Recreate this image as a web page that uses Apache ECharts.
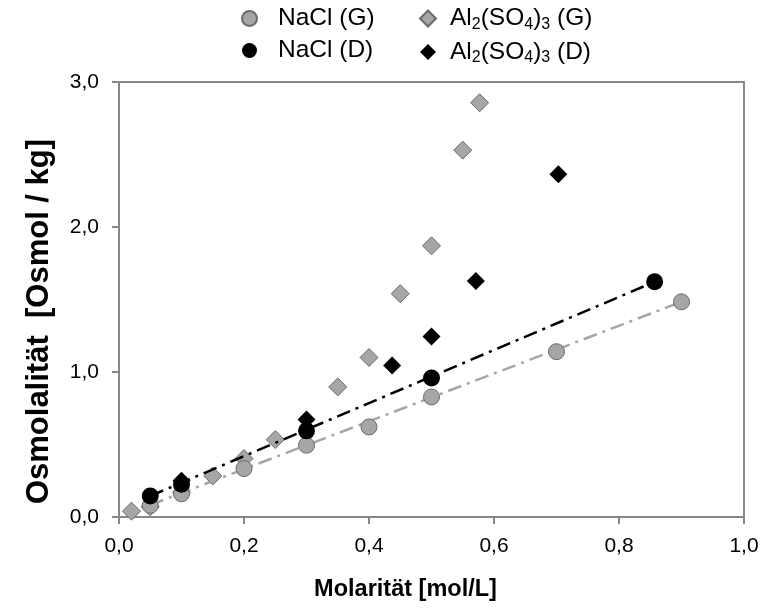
<!DOCTYPE html>
<html>
<head>
<meta charset="utf-8">
<script src="https://cdn.jsdelivr.net/npm/echarts@6/dist/echarts.min.js"></script>
<style>
  html,body{margin:0;padding:0;background:#fff;}
  #chart{width:764px;height:611px;}
</style>
</head>
<body>
<div id="chart"></div>
<script>
// values
const naclG_x = [0.05, 0.1, 0.2, 0.3, 0.4, 0.5, 0.7, 0.9];
const naclG_y = [0.08, 0.16, 0.334, 0.495, 0.621, 0.828, 1.14, 1.484];

const naclD_x = [0.05, 0.1, 0.3, 0.5, 0.857];
const naclD_y = [0.145, 0.226, 0.594, 0.959, 1.622];

const alG_x = [0.02, 0.05, 0.1, 0.15, 0.2, 0.25, 0.35, 0.4, 0.45, 0.5, 0.55, 0.577];
const alG_y = [0.04, 0.07, 0.17, 0.283, 0.403, 0.534, 0.897, 1.10, 1.54, 1.87, 2.53, 2.857];

const alD_x = [0.1, 0.3, 0.437, 0.5, 0.571, 0.703];
const alD_y = [0.25, 0.672, 1.045, 1.245, 1.627, 2.363];

// trend line end points
const trendD_x = [0.05, 0.857];
const trendD_y = [0.145, 1.622];
const trendG_x = [0.05, 0.9];
const trendG_y = [0.083, 1.484];

const xTicks = [0, 0.2, 0.4, 0.6, 0.8, 1.0];
const yTicks = [0, 1, 2, 3];

const pairs = (xs, ys) => xs.map((x, i) => [x, ys[i]]);
const comma = v => v.toFixed(1).replace('.', ',');

const GREY = '#a6a6a6';
const EDGE = '#6b6b6b';
const AXIS = '#878787';
const FONT = '"Liberation Sans", Arial, sans-serif';

const legendRich = {
    n: {fontSize: 24.5, lineHeight: 28, color: '#000', fontFamily: FONT},
    s: {fontSize: 16, lineHeight: 16, verticalAlign: 'bottom', color: '#000', fontFamily: FONT}
};
const legendFormatter = name =>
    name.split(/(\d)/).filter(t => t !== '').map(t =>
        /\d/.test(t) ? '{s|' + t + '}' : '{n|' + t + '}'
    ).join('');

const chart = echarts.init(document.getElementById('chart'));

chart.setOption({
    animation: false,
    backgroundColor: '#fff',
    textStyle: {fontFamily: FONT},
    grid: {
        left: 119, right: 20, top: 82, bottom: 94,
        show: true, borderColor: AXIS, borderWidth: 2
    },
    legend: [
        {
            data: ['NaCl (G)', 'NaCl (D)'],
            orient: 'vertical',
            left: 236, top: 1,
            itemWidth: 15, itemHeight: 15, itemGap: 7,
            formatter: legendFormatter,
            textStyle: {rich: legendRich, padding: [0, 0, 0, 16]}
        },
        {
            data: ['Al2(SO4)3 (G)', 'Al2(SO4)3 (D)'],
            orient: 'vertical',
            left: 414, top: 1,
            itemWidth: 16, itemHeight: 16, itemGap: 7,
            formatter: legendFormatter,
            textStyle: {rich: legendRich, padding: [0, 0, 0, 9]}
        }
    ],
    xAxis: {
        type: 'value',
        min: 0, max: 1, interval: 0.2,
        name: 'Molarität [mol/L]',
        nameLocation: 'middle',
        nameGap: 61,
        nameTextStyle: {
            fontSize: 23.5, fontWeight: 'bold', color: '#000', fontFamily: FONT,
            padding: [0, 52, 0, 0]
        },
        axisLine: {show: true, lineStyle: {color: AXIS, width: 2}},
        axisTick: {show: true, inside: false, length: 7, lineStyle: {color: AXIS, width: 2}},
        axisLabel: {
            fontSize: 21, color: '#000', margin: 19,
            formatter: v => comma(v),
            customValues: xTicks
        },
        splitLine: {show: false}
    },
    yAxis: {
        type: 'value',
        min: 0, max: 3, interval: 1,
        name: 'Osmolalität  [Osmol / kg]',
        nameLocation: 'middle',
        nameGap: 64,
        nameTextStyle: {
            fontSize: 31, fontWeight: 'bold', color: '#000', fontFamily: FONT,
            padding: [0, 44, 0, 0]
        },
        axisLine: {show: true, lineStyle: {color: AXIS, width: 2}},
        axisTick: {show: true, inside: false, length: 7, lineStyle: {color: AXIS, width: 2}},
        axisLabel: {
            fontSize: 21, color: '#000', margin: 20,
            formatter: v => comma(v),
            customValues: yTicks
        },
        splitLine: {show: false}
    },
    series: [
        {
            name: 'Al2(SO4)3 (G)',
            type: 'scatter',
            symbol: 'diamond',
            symbolSize: 18,
            z: 2,
            itemStyle: {color: GREY, borderColor: EDGE, borderWidth: 1, opacity: 1},
            data: pairs(alG_x, alG_y)
        },
        {
            name: 'NaCl (G)',
            type: 'scatter',
            symbol: 'circle',
            symbolSize: 16,
            z: 3,
            itemStyle: {color: GREY, borderColor: EDGE, borderWidth: 1, opacity: 1},
            data: pairs(naclG_x, naclG_y)
        },
        {
            name: 'trendG',
            type: 'line',
            symbol: 'none',
            z: 2,
            silent: true,
            lineStyle: {color: GREY, width: 2.5, type: [14, 6, 3, 6]},
            data: pairs(trendG_x, trendG_y)
        },
        {
            name: 'trendD',
            type: 'line',
            symbol: 'none',
            z: 4,
            silent: true,
            lineStyle: {color: '#000', width: 2.5, type: [14, 6, 3, 6]},
            data: pairs(trendD_x, trendD_y)
        },
        {
            name: 'NaCl (D)',
            type: 'scatter',
            symbol: 'circle',
            symbolSize: 17,
            z: 5,
            itemStyle: {color: '#000', opacity: 1},
            data: pairs(naclD_x, naclD_y)
        },
        {
            name: 'Al2(SO4)3 (D)',
            type: 'scatter',
            symbol: 'diamond',
            symbolSize: 18,
            z: 6,
            itemStyle: {color: '#000', opacity: 1},
            data: pairs(alD_x, alD_y)
        }
    ]
});
</script>
</body>
</html>
